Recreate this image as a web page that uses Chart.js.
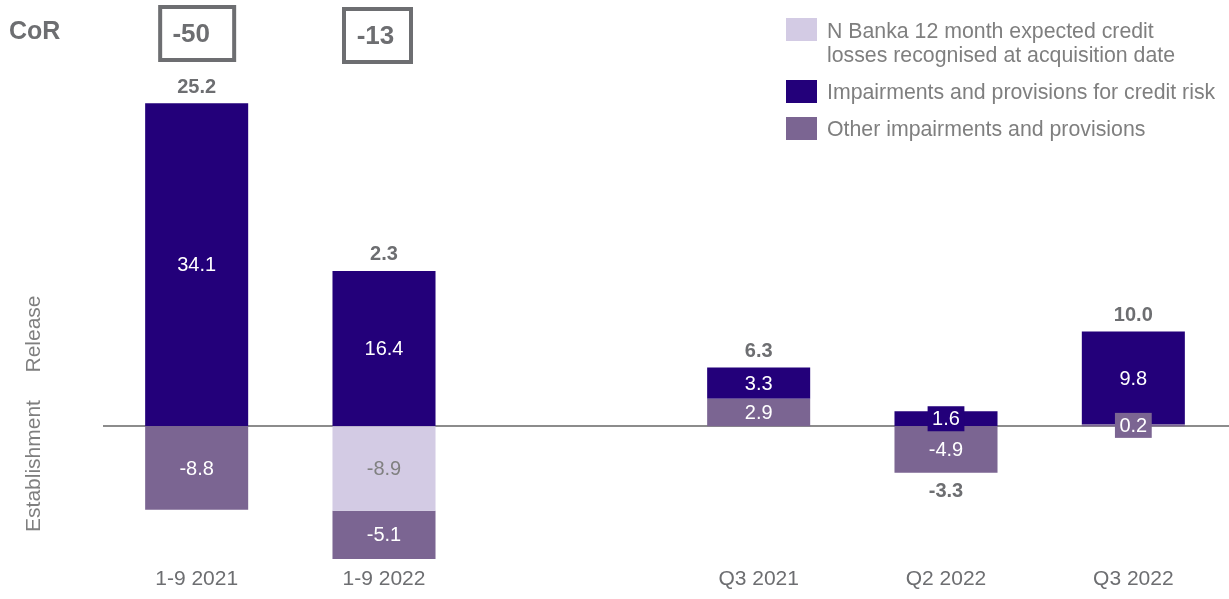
<!DOCTYPE html>
<html>
<head>
<meta charset="utf-8">
<script src="https://cdn.jsdelivr.net/npm/chart.js@4.4.1/dist/chart.umd.min.js"></script>
<style>
  html, body { margin: 0; padding: 0; background: #ffffff; }
  #wrap { width: 1229px; height: 599px; position: relative; }
</style>
</head>
<body>
<div id="wrap"><canvas id="c" width="1229" height="599"></canvas></div>
<script>
// ---- Data ----
const categories = ['1-9 2021', '1-9 2022', '', 'Q3 2021', 'Q2 2022', 'Q3 2022'];
const nBankaValues = [null, -8.9, null, null, null, null];
const otherValues = [-8.8, -5.1, null, 2.9, -4.9, 0.2];
const creditValues = [34.1, 16.4, null, 3.3, 1.6, 9.8];
const totalValues = [25.2, 2.3, null, 6.3, -3.3, 10.0];
const corLabels = ['-50', '-13', null, null, null, null];
const seriesNames = {
  nBanka: ['N Banka 12 month expected credit', 'losses recognised at acquisition date'],
  credit: ['Impairments and provisions for credit risk'],
  other: ['Other impairments and provisions']
};
const axisLabels = { up: 'Release', down: 'Establishment', cor: 'CoR' };

// ---- Styles ----
const FONT = '"Liberation Sans", Arial, Helvetica, sans-serif';
const C_NAVY = '#23007A';
const C_PURPLE = '#7B6592';
const C_LAV = '#D3CBE4';
const C_TEXT = '#6D6E71';
const C_LEGEND = '#7F7F7F';

const overlay = {
  id: 'overlay',
  beforeDatasetsDraw(chart) {
    const ctx = chart.ctx;
    const y = chart.scales.y;
    const y0 = Math.round(y.getPixelForValue(0));
    ctx.save();
    ctx.strokeStyle = '#8C8C8C';
    ctx.lineWidth = 2;
    ctx.beginPath();
    ctx.moveTo(chart.chartArea.left, y0);
    ctx.lineTo(chart.width, y0);
    ctx.stroke();
    ctx.restore();
  },
  afterDatasetsDraw(chart) {
    const ctx = chart.ctx;
    const xs = chart.scales.x, ys = chart.scales.y;
    ctx.save();
    // segment labels
    chart.data.datasets.forEach((ds, di) => {
      const meta = chart.getDatasetMeta(di);
      meta.data.forEach((el, i) => {
        const v = ds.data[i];
        if (v === null || v === undefined) return;
        const top = Math.min(el.y, el.base), bot = Math.max(el.y, el.base);
        const cy = (top + bot) / 2;
        const txt = v.toFixed(1);
        ctx.font = '20px ' + FONT;
        ctx.textAlign = 'center';
        ctx.textBaseline = 'middle';
        if (bot - top < 20) {
          const w = ctx.measureText(txt).width + 9;
          ctx.fillStyle = ds.backgroundColor;
          ctx.fillRect(el.x - w / 2, cy - 12.5, w, 25);
        }
        ctx.fillStyle = ds.labelColor || '#FFFFFF';
        ctx.fillText(txt, el.x, cy + 1);
      });
    });
    // totals
    ctx.font = 'bold 20px ' + FONT;
    ctx.fillStyle = C_TEXT;
    ctx.textAlign = 'center';
    ctx.textBaseline = 'middle';
    totalValues.forEach((t, i) => {
      if (t === null) return;
      let pos = 0, neg = 0;
      [nBankaValues, otherValues, creditValues].forEach(arr => {
        const v = arr[i];
        if (v === null) return;
        if (v >= 0) pos += v; else neg += v;
      });
      const x = xs.getPixelForValue(i);
      if (t >= 0) {
        ctx.fillText(t.toFixed(1), x, ys.getPixelForValue(pos) - 16);
      } else {
        ctx.fillText(t.toFixed(1), x, ys.getPixelForValue(neg) + 19);
      }
    });
    ctx.restore();
  },
  afterDraw(chart) {
    const ctx = chart.ctx;
    const xs = chart.scales.x;
    ctx.save();
    // CoR
    ctx.font = 'bold 25px ' + FONT;
    ctx.fillStyle = C_TEXT;
    ctx.textAlign = 'left';
    ctx.textBaseline = 'middle';
    ctx.fillText(axisLabels.cor, 9, 32);
    // CoR boxes
    const boxOffsets = [0.5, -6.5];
    const boxWidths = [74, 67];
    const boxTops = [7, 9];
    corLabels.forEach((lab, i) => {
      if (lab === null) return;
      const cx = xs.getPixelForValue(i) + boxOffsets[i];
      const w = boxWidths[i];
      ctx.strokeStyle = C_TEXT;
      ctx.lineWidth = 4;
      ctx.strokeRect(cx - w / 2, boxTops[i], w, 53);
      ctx.font = 'bold 26px ' + FONT;
      ctx.fillStyle = C_TEXT;
      ctx.textAlign = 'center';
      ctx.fillText(lab, cx - 6 + i * 4, boxTops[i] + 28);
    });
    // rotated axis labels
    ctx.font = '21px ' + FONT;
    ctx.fillStyle = C_LEGEND;
    ctx.textAlign = 'center';
    ctx.textBaseline = 'middle';
    [[axisLabels.up, 334], [axisLabels.down, 466]].forEach(([t, y]) => {
      ctx.save();
      ctx.translate(34, y);
      ctx.rotate(-Math.PI / 2);
      ctx.fillText(t, 0, 0);
      ctx.restore();
    });
    // legend
    const items = [
      { color: C_LAV, lines: seriesNames.nBanka, sq: 18, ty: 32 },
      { color: C_NAVY, lines: seriesNames.credit, sq: 80, ty: 93 },
      { color: C_PURPLE, lines: seriesNames.other, sq: 117, ty: 130 }
    ];
    ctx.font = '21.3px ' + FONT;
    ctx.textAlign = 'left';
    items.forEach(it => {
      ctx.fillStyle = it.color;
      ctx.fillRect(786, it.sq, 31, 23);
      ctx.fillStyle = C_LEGEND;
      it.lines.forEach((l, k) => ctx.fillText(l, 827, it.ty + k * 24.5));
    });
    ctx.restore();
  }
};

new Chart(document.getElementById('c'), {
  type: 'bar',
  data: {
    labels: categories,
    datasets: [
      { label: seriesNames.nBanka.join(' '), data: nBankaValues, backgroundColor: C_LAV, labelColor: '#808080' },
      { label: seriesNames.other[0], data: otherValues, backgroundColor: C_PURPLE },
      { label: seriesNames.credit[0], data: creditValues, backgroundColor: C_NAVY }
    ]
  },
  options: {
    responsive: false,
    animation: false,
    devicePixelRatio: 1,
    layout: { padding: { left: 103, right: 2, top: 0, bottom: 2 } },
    datasets: { bar: { barPercentage: 0.55, categoryPercentage: 1, borderWidth: 0 } },
    plugins: { legend: { display: false }, tooltip: { enabled: false } },
    scales: {
      x: {
        stacked: true,
        grid: { display: false, drawTicks: false },
        border: { display: false },
        ticks: { color: C_TEXT, font: { family: FONT, size: 21 }, padding: 5, maxRotation: 0 }
      },
      y: {
        stacked: true,
        display: false,
        min: -14.3,
        max: 45
      }
    }
  },
  plugins: [overlay]
});
</script>
</body>
</html>
